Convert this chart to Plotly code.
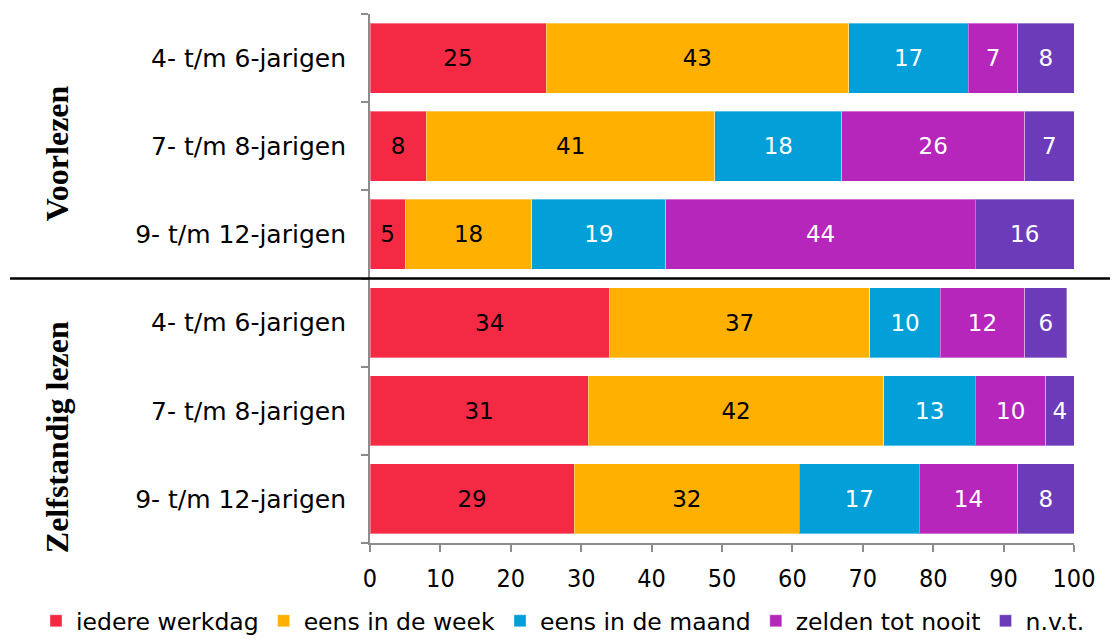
import plotly.graph_objects as go

rows = ["V4", "V7", "V9", "Z4", "Z7", "Z9"]
row_labels = ["4- t/m 6-jarigen", "7- t/m 8-jarigen", "9- t/m 12-jarigen",
              "4- t/m 6-jarigen", "7- t/m 8-jarigen", "9- t/m 12-jarigen"]
groups = ["Voorlezen", "Zelfstandig lezen"]

series = ["iedere werkdag", "eens in de week", "eens in de maand", "zelden tot nooit", "n.v.t."]

iedere_werkdag = [25, 8, 5, 34, 31, 29]
eens_week = [43, 41, 18, 37, 42, 32]
eens_maand = [17, 18, 19, 10, 13, 17]
zelden = [7, 26, 44, 12, 10, 14]
nvt = [8, 7, 14, 6, 4, 8]          # width as drawn
nvt_labels = [8, 7, 16, 6, 4, 8]   # value as printed

colors = ["#F42A45", "#FFB000", "#039FD9", "#B626BA", "#6C3BBA"]
text_colors = ["black", "black", "white", "white", "white"]

values = [iedere_werkdag, eens_week, eens_maand, zelden, nvt]
labels = [iedere_werkdag, eens_week, eens_maand, zelden, nvt_labels]

FONT = "DejaVu Sans, Verdana, sans-serif"

# page body has an 8px margin; figure sized so the plot lands where the reference has it
W, H = 1110, 631
L, T = 362, 6
PW, PH = 704, 529

fig = go.Figure()
for name, vals, labs, col, tcol in zip(series, values, labels, colors, text_colors):
    fig.add_trace(go.Bar(
        name=name, y=rows, x=vals, orientation="h",
        marker=dict(color=col, line=dict(color="rgba(255,255,255,0.35)", width=1)),
        text=[str(v) for v in labs], textposition="inside", insidetextanchor="middle",
        constraintext="none",
        textfont=dict(family=FONT, size=23, color=tcol),
        width=0.795, hoverinfo="skip",
    ))

fig.update_layout(
    barmode="stack",
    width=W, height=H,
    margin=dict(l=L, r=W - L - PW, t=T, b=H - T - PH, autoexpand=False),
    plot_bgcolor="white", paper_bgcolor="white",
    showlegend=True,
    legend=dict(orientation="h", x=(28 - L) / PW, xanchor="left", y=-(613 - T - PH) / PH,
                yanchor="middle",
                font=dict(family=FONT, size=23.5, color="black"),
                itemwidth=30, traceorder="normal", tracegroupgap=0),
    xaxis=dict(range=[0, 100], autorange=False, tickvals=list(range(0, 101, 10)), showgrid=False,
               zeroline=False, showline=True, linecolor="#8C8C8C", linewidth=2,
               ticks="outside", ticklen=7, tickcolor="#8C8C8C", tickwidth=2,
               ticklabelstandoff=5,
               tickfont=dict(family="DejaVu Sans Condensed, DejaVu Sans, sans-serif", size=25, color="black")),
    yaxis=dict(type="category", categoryorder="array", categoryarray=rows,
               range=[len(rows) - 0.5, -0.5], autorange=False,
               tickmode="array", tickvals=rows, ticktext=row_labels,
               tickson="boundaries", showgrid=False, zeroline=False,
               showline=True, linecolor="#8C8C8C", linewidth=2,
               ticks="outside", ticklen=7, tickcolor="#8C8C8C", tickwidth=2,
               ticklabelstandoff=17,
               tickfont=dict(family=FONT, size=25, color="black")),
)

# separator line between the two groups
fig.add_shape(type="line", xref="paper", yref="y", x0=(2 - L) / PW, x1=(1102 - L) / PW,
              y0=2.5, y1=2.5, line=dict(color="black", width=2.5))

group_y = [1.08, 4.3]
for g, gy in zip(groups, group_y):
    fig.add_annotation(text="<b>" + g + "</b>", xref="paper", yref="y",
                       x=(49 - L) / PW, y=gy, textangle=-90, showarrow=False,
                       xanchor="center", yanchor="middle",
                       font=dict(family="Liberation Serif, Times New Roman, serif", size=32, color="black"))

fig.write_html("out.html")
